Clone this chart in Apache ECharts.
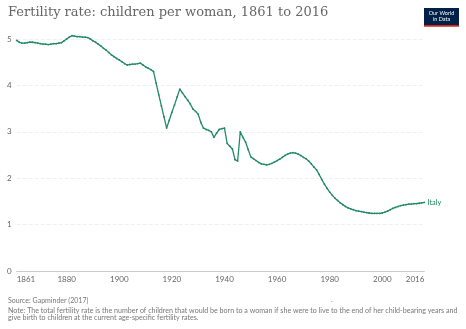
<!DOCTYPE html>
<html><head><meta charset="utf-8">
<script src="https://cdn.jsdelivr.net/npm/echarts@6/dist/echarts.min.js"></script>
<style>html,body{margin:0;padding:0;background:#fff}#c{width:466px;height:329px}</style>
</head><body><div id="c"></div>
<script>
const years = [1861,1862,1863,1864,1865,1866,1867,1868,1869,1870,1871,1872,1873,1874,1875,1876,1877,1878,1879,1880,
1881,1882,1883,1884,1885,1886,1887,1888,1889,1890,1891,1892,1893,1894,1895,1896,1897,1898,1899,1900,
1901,1902,1903,1904,1905,1906,1907,1908,1909,1910,1911,1912,1913,1914,1915,1916,1917,1918,1919,1920,
1921,1922,1923,1924,1925,1926,1927,1928,1929,1930,1931,1932,1933,1934,1935,1936,1937,1938,1939,1940,
1941,1942,1943,1944,1945,1946,1947,1948,1949,1950,1951,1952,1953,1954,1955,1956,1957,1958,1959,1960,
1961,1962,1963,1964,1965,1966,1967,1968,1969,1970,1971,1972,1973,1974,1975,1976,1977,1978,1979,1980,
1981,1982,1983,1984,1985,1986,1987,1988,1989,1990,1991,1992,1993,1994,1995,1996,1997,1998,1999,2000,
2001,2002,2003,2004,2005,2006,2007,2008,2009,2010,2011,2012,2013,2014,2015,2016];
const italy = [4.97,4.93,4.91,4.91,4.92,4.93,4.93,4.92,4.91,4.90,4.89,4.89,4.88,4.89,4.90,4.90,4.91,4.92,4.96,5.00,
5.04,5.07,5.06,5.05,5.05,5.04,5.04,5.03,5.00,4.96,4.93,4.89,4.85,4.80,4.76,4.71,4.66,4.62,4.58,4.55,
4.51,4.47,4.44,4.45,4.46,4.46,4.47,4.48,4.44,4.40,4.37,4.34,4.30,4.05,3.80,3.56,3.32,3.08,3.25,3.42,
3.58,3.75,3.92,3.84,3.76,3.68,3.60,3.49,3.44,3.38,3.20,3.08,3.05,3.03,3.00,2.88,2.97,3.05,3.07,3.08,
2.75,2.69,2.63,2.40,2.37,3.00,2.88,2.78,2.62,2.46,2.42,2.38,2.34,2.31,2.30,2.29,2.30,2.32,2.35,2.38,
2.41,2.45,2.49,2.52,2.54,2.55,2.54,2.52,2.49,2.45,2.42,2.37,2.31,2.24,2.18,2.08,1.97,1.87,1.78,1.70,
1.63,1.57,1.52,1.47,1.43,1.39,1.36,1.34,1.32,1.30,1.29,1.28,1.27,1.26,1.25,1.24,1.24,1.24,1.24,1.25,
1.27,1.29,1.32,1.35,1.37,1.39,1.41,1.42,1.43,1.44,1.44,1.45,1.45,1.46,1.47,1.48];
const xTicks = [1861,1880,1900,1920,1940,1960,1980,2000,2016];
const yTicks = [0,1,2,3,4,5];
const seriesName = 'Italy';
const titleText = 'Fertility rate: children per woman, 1861 to 2016';
const sourceText = 'Source: Gapminder (2017)';
const noteLines = ['Note: The total fertility rate is the number of children that would be born to a woman if she were to live to the end of her child-bearing years and',
  'give birth to children at the current age-specific fertility rates.'];

const chart = echarts.init(document.getElementById('c'), null, {renderer:'canvas'});
const lineColor = '#23896a';
chart.setOption({
  animation: false,
  grid: {left: 16.7, right: 41.6, top: 39, bottom: 58, containLabel: false},
  xAxis: {
    type: 'value', min: 1861, max: 2016,
    axisLine: {show: true, lineStyle: {color: '#ccc', width: 1}},
    axisTick: {show: false},
    splitLine: {show: false},
    axisLabel: {customValues: xTicks, color: '#666', fontFamily: 'Lato', fontSize: 8, margin: 4,
      alignMinLabel: 'left', alignMaxLabel: 'right', formatter: v => String(v)}
  },
  yAxis: {
    type: 'value', min: 0, max: 5, interval: 1,
    axisLine: {show: false}, axisTick: {show: false},
    splitLine: {show: true, lineStyle: {color: '#f0f0f0', type: 'dashed', width: 1}},
    axisLabel: {color: '#666', fontFamily: 'Lato', fontSize: 8, margin: 5, formatter: v => String(yTicks.indexOf(v) >= 0 ? v : '')}
  },
  series: [{
    name: seriesName, type: 'line', clip: false,
    data: years.map((y, i) => [y, italy[i]]),
    showSymbol: true, symbol: 'circle', symbolSize: 1.8,
    itemStyle: {color: lineColor},
    lineStyle: {color: lineColor, width: 1.3},
    endLabel: {show: true, formatter: seriesName, color: '#1a8a5a', fontFamily: 'Lato', fontSize: 7.5, distance: 3}
  }],
  graphic: [
    {type: 'text', left: 8, top: 6, style: {text: titleText, fill: '#666', font: '13px "DejaVu Serif"'}},
    {type: 'rect', shape: {x: 424, y: 8, width: 35, height: 17}, style: {fill: '#002147'}},
    {type: 'rect', shape: {x: 424, y: 25, width: 35, height: 1.8}, style: {fill: '#ce261e'}},
    {type: 'text', x: 441.5, y: 10, style: {text: 'Our World\nin Data', fill: '#fff', font: '5.5px Lato', align: 'center', lineHeight: 6}},
    {type: 'text', left: 8, top: 297, style: {text: sourceText, fill: '#777', font: '7px Lato'}},
    {type: 'text', x: 331, y: 298, style: {text: '·', fill: '#888', font: '6px Lato'}},
    {type: 'text', left: 8, top: 307, style: {text: noteLines.join('\n'), fill: '#777', font: '7.1px Lato', lineHeight: 7.3}}
  ]
});
</script></body></html>
